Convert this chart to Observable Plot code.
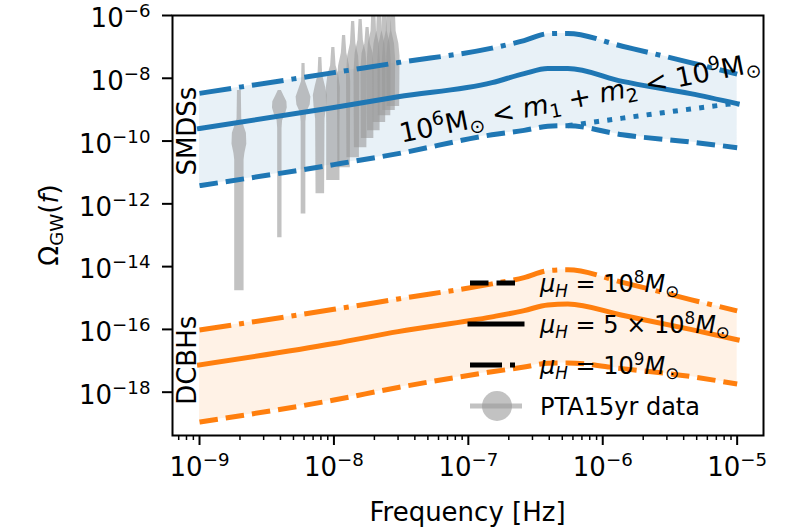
<!DOCTYPE html>
<html>
<head>
<meta charset="utf-8">
<script src="https://cdn.jsdelivr.net/npm/d3@7"></script>
<script src="https://cdn.jsdelivr.net/npm/@observablehq/plot@0.6"></script>
<style>
  body { margin: 0; background: #fff; }
  #wrap { position: relative; width: 800px; height: 530px; font-family: "DejaVu Sans", sans-serif; }
</style>
</head>
<body>
<div id="wrap"></div>
<script>
// ---------------- data ----------------
// frequency grid [Hz]
const freqs = [1e-9, 1e-8, 3e-8, 1.5e-7, 2.6e-7, 3.9e-7, 5.5e-7, 1.4e-6, 4.5e-6, 1e-5];
// log10 Omega_GW for SMDS binaries
const smdsLow  = [-11.42, -10.75, -10.40, -9.80, -9.66, -9.53, -9.51, -9.80, -10.03, -10.21]; // mu_H = 1e8 (dashed)
const smdsMid  = [-9.60, -8.93, -8.59, -8.14, -7.85, -7.69, -7.69, -8.10, -8.49, -8.81];       // mu_H = 5e8 (solid)
const smdsHigh = [-8.48, -7.82, -7.50, -7.04, -6.80, -6.58, -6.57, -6.98, -7.50, -7.87];       // mu_H = 1e9 (dash-dot)
const smdsDotFreqs = [5.5e-7, 1.4e-6, 4.5e-6, 1e-5];
const smdsDot  = [-9.51, -9.27, -8.98, -8.79];                                                 // dotted
// log10 Omega_GW for DCBHs
const dcbhLow  = [-18.95, -18.25, -17.85, -17.35, -17.20, -17.08, -17.07, -17.25, -17.50, -17.74];
const dcbhMid  = [-17.13, -16.45, -16.07, -15.60, -15.40, -15.22, -15.19, -15.55, -16.00, -16.33];
const dcbhHigh = [-16.02, -15.36, -15.03, -14.55, -14.35, -14.13, -14.10, -14.50, -15.05, -15.41];

// PTA 15yr violins: frequency bins and density profiles [log10 Omega, relative width]
const ptaFreqs = [1.98e-9, 3.96e-9, 5.94e-9, 7.92e-9, 9.9e-9, 1.19e-8, 1.39e-8, 1.58e-8, 1.78e-8, 1.98e-8, 2.18e-8, 2.38e-8, 2.57e-8, 2.77e-8];
const ptaProfiles = [
  [[-8.39,0.25],[-9.3,0.3],[-9.5,0.55],[-9.75,0.9],[-10.1,0.95],[-10.4,0.7],[-10.6,0.6],[-14.77,0.6]],
  [[-8.39,0.2],[-8.55,0.5],[-8.75,0.9],[-8.95,0.95],[-9.15,0.7],[-9.35,0.35],[-9.6,0.28],[-13.08,0.28]],
  [[-7.53,0.2],[-8.1,0.25],[-8.35,0.6],[-8.6,0.95],[-8.85,0.85],[-9.1,0.4],[-9.4,0.3],[-12.32,0.3]],
  [[-7.34,0.2],[-7.9,0.3],[-8.25,0.65],[-8.55,0.9],[-8.9,0.8],[-9.3,0.6],[-11.68,0.55]],
  [[-7.02,0.2],[-7.6,0.35],[-7.9,0.7],[-8.3,0.9],[-9.5,0.85],[-11.26,0.85]],
  [[-6.64,0.2],[-7.2,0.35],[-7.6,0.7],[-8.1,0.85],[-10.85,0.8]],
  [[-6.19,0.2],[-6.9,0.35],[-7.3,0.7],[-7.9,0.85],[-10.53,0.8]],
  [[-6.13,0.2],[-6.8,0.35],[-7.2,0.7],[-7.8,0.85],[-10.21,0.8]],
  [[-6.38,0.2],[-6.9,0.35],[-7.2,0.7],[-7.7,0.85],[-9.92,0.8]],
  [[-5.5,0.2],[-6.5,0.35],[-6.9,0.7],[-7.5,0.85],[-9.67,0.8]],
  [[-5.5,0.2],[-6.5,0.35],[-6.9,0.7],[-7.4,0.85],[-9.41,0.8]],
  [[-5.5,0.2],[-6.5,0.35],[-6.9,0.7],[-7.4,0.85],[-9.19,0.8]],
  [[-5.5,0.2],[-6.5,0.35],[-6.9,0.7],[-7.4,0.85],[-9.03,0.8]],
  [[-5.5,0.2],[-6.5,0.35],[-6.9,0.7],[-7.3,0.85],[-8.9,0.8]]
];

// axis ticks
const xTicks = [1e-9, 1e-8, 1e-7, 1e-6, 1e-5];
const xMinorTicks = [7e-10, 8e-10, 9e-10,
  2e-9,3e-9,4e-9,5e-9,6e-9,7e-9,8e-9,9e-9,
  2e-8,3e-8,4e-8,5e-8,6e-8,7e-8,8e-8,9e-8,
  2e-7,3e-7,4e-7,5e-7,6e-7,7e-7,8e-7,9e-7,
  2e-6,3e-6,4e-6,5e-6,6e-6,7e-6,8e-6,9e-6];
const yTicks = [1e-6, 1e-8, 1e-10, 1e-12, 1e-14, 1e-16, 1e-18];

// ---------------- styles ----------------
const BLUE = "#1f77b4", ORANGE = "#ff7f0e";
const lw = 5;
const DASHED = `${3.7*lw},${1.6*lw}`;
const DASHDOT = `${6.4*lw},${1.6*lw},${lw},${1.6*lw}`;
const DOTTED = `${lw},${1.65*lw}`;
const violinHW = 0.058; // half width (decades) for relative density 1
const FS = 26;

// ---------------- build tables ----------------
const toCurve = (fs, vals) => vals.map((v, i) => ({f: fs[i], v: 10 ** v}));
const toBand = (lo, hi) => freqs.map((f, i) => ({f, lo: 10 ** lo[i], hi: 10 ** hi[i]}));
const violinPts = ptaFreqs.flatMap((f, k) => ptaProfiles[k].map(([lv, d]) => ({
  k, v: 10 ** lv, x1: f * 10 ** (-d * violinHW), x2: f * 10 ** (d * violinHW)
})));

const lineOpts = (color, dash) => ({x: "f", y: "v", stroke: color, strokeWidth: lw, strokeDasharray: dash,
  strokeLinecap: "butt", curve: "monotone-x", clip: true});

const plot = Plot.plot({
  width: 800, height: 530,
  marginLeft: 172, marginRight: 37, marginTop: 15, marginBottom: 95,
  style: {fontFamily: "DejaVu Sans", fontSize: FS + "px", background: "white", color: "black"},
  x: {type: "log", domain: [10 ** -9.201, 10 ** -4.804]},
  y: {type: "log", domain: [10 ** -19.38, 1e-6]},
  marks: [
    Plot.areaY(toBand(smdsLow, smdsHigh), {x: "f", y1: "lo", y2: "hi", fill: BLUE, fillOpacity: 0.1, curve: "monotone-x"}),
    Plot.areaY(toBand(dcbhLow, dcbhHigh), {x: "f", y1: "lo", y2: "hi", fill: ORANGE, fillOpacity: 0.1, curve: "monotone-x"}),
    Plot.areaX(violinPts, {y: "v", x1: "x1", x2: "x2", z: "k", fill: "#9a9a9a", fillOpacity: 0.6, clip: true}),
    Plot.line(toCurve(smdsDotFreqs, smdsDot), lineOpts(BLUE, DOTTED)),
    Plot.line(toCurve(freqs, smdsLow), lineOpts(BLUE, DASHED)),
    Plot.line(toCurve(freqs, smdsMid), {...lineOpts(BLUE, null), strokeLinecap: "square"}),
    Plot.line(toCurve(freqs, smdsHigh), lineOpts(BLUE, DASHDOT)),
    Plot.line(toCurve(freqs, dcbhLow), lineOpts(ORANGE, DASHED)),
    Plot.line(toCurve(freqs, dcbhMid), {...lineOpts(ORANGE, null), strokeLinecap: "square"}),
    Plot.line(toCurve(freqs, dcbhHigh), lineOpts(ORANGE, DASHDOT)),
    Plot.frame({stroke: "black", strokeWidth: 2}),
    Plot.axisX({ticks: xMinorTicks, tickSize: 5, strokeWidth: 1.5, tickFormat: () => "", label: null}),
    Plot.axisX({ticks: xTicks, tickSize: 10, tickPadding: 12, strokeWidth: 2, fontSize: FS,
      tickFormat: d => "E" + Math.round(Math.log10(d)), label: null}),
    Plot.axisY({ticks: yTicks, tickSize: 10, tickPadding: 12, strokeWidth: 2, fontSize: FS,
      tickFormat: d => "E" + Math.round(Math.log10(d)), label: null})
  ]
});

document.getElementById("wrap").appendChild(plot);
const svg = d3.select(plot);

// rich text helper: parts = [{t, sup, sub, it}]
function rich(sel, parts, size) {
  let cur = 0;
  for (const p of parts) {
    const shift = p.sup ? -0.38 * size : p.sub ? 0.2 * size : 0;
    const ts = sel.append("tspan").text(p.t).attr("dy", shift - cur);
    cur = shift;
    if (p.sup || p.sub) ts.attr("font-size", (0.7 * size).toFixed(1));
    if (p.it) ts.attr("font-style", "italic");
  }
  return sel;
}

// tick labels -> 10^exp
plot.querySelectorAll("g[aria-label$='tick label'] text").forEach(el => {
  const s = el.textContent;
  if (!s.startsWith("E")) return;
  const e = s.slice(1).replace("-", "\u2212");
  el.textContent = "";
  rich(d3.select(el), [{t: "10"}, {t: e, sup: true}], FS);
  const isY = el.closest("g").getAttribute("aria-label").startsWith("y");
  if (isY) el.setAttribute("y", "0.45em");
});

const X = plot.scale("x"), Y = plot.scale("y");

// axis labels
svg.append("text").attr("x", 467.5).attr("y", 521).attr("text-anchor", "middle")
  .attr("font-size", FS).text("Frequency [Hz]");
rich(svg.append("text").attr("text-anchor", "middle").attr("font-size", FS)
  .attr("transform", "translate(58,225) rotate(-90)"),
  [{t: "\u03A9"}, {t: "GW", sub: true}, {t: "("}, {t: "f", it: true}, {t: ")"}], FS);

// annotations
const annotations = [
  {f: 9.5e-10, v: 2.0e-10, rot: -90, size: FS, parts: [{t: "SMDSs"}]},
  {f: 9.5e-10, v: 1.0e-17, rot: -90, size: FS, parts: [{t: "DCBHs"}]},
  {f: 7.0e-7, v: 1.2e-9, rot: -11.3, size: 27, parts: [
    {t: "10"}, {t: "6", sup: true}, {t: "M"}, {t: "\u2299", sub: true}, {t: " < "},
    {t: "m", it: true}, {t: "1", sub: true}, {t: " + "}, {t: "m", it: true}, {t: "2", sub: true},
    {t: " < 10"}, {t: "9", sup: true}, {t: "M"}, {t: "\u2299", sub: true}]}
];
for (const a of annotations) {
  const x = X.apply(a.f), y = Y.apply(a.v);
  rich(svg.append("text").attr("text-anchor", "middle").attr("font-size", a.size)
    .attr("transform", `translate(${x},${y}) rotate(${a.rot})`), a.parts, a.size);
}

// legend (inside the axes, no frame)
const LFS = 24;
const legendRows = [
  {kind: "line", dash: DASHED, parts: [{t: "\u03BC", it: true}, {t: "H", sub: true, it: true}, {t: " = 10"}, {t: "8", sup: true}, {t: "M", it: true}, {t: "\u2299", sub: true}]},
  {kind: "line", dash: null, parts: [{t: "\u03BC", it: true}, {t: "H", sub: true, it: true}, {t: " = 5 \u00D7 10"}, {t: "8", sup: true}, {t: "M", it: true}, {t: "\u2299", sub: true}]},
  {kind: "line", dash: DASHDOT, parts: [{t: "\u03BC", it: true}, {t: "H", sub: true, it: true}, {t: " = 10"}, {t: "9", sup: true}, {t: "M", it: true}, {t: "\u2299", sub: true}]},
  {kind: "pta", parts: [{t: "PTA15yr data"}]}
];
const lg = svg.append("g").attr("transform", "translate(470,283)");
legendRows.forEach((r, i) => {
  const g = lg.append("g").attr("transform", `translate(0,${i * 41})`);
  if (r.kind === "line") {
    g.append("line").attr("x1", 0).attr("x2", 52).attr("stroke", "black").attr("stroke-width", lw)
      .attr("stroke-dasharray", r.dash).attr("stroke-linecap", r.dash ? "butt" : "square");
  } else {
    g.append("line").attr("x1", 0).attr("x2", 52).attr("stroke", "#9a9a9a").attr("stroke-opacity", 0.6).attr("stroke-width", lw);
    g.append("circle").attr("cx", 27).attr("r", 15).attr("fill", "#9a9a9a").attr("fill-opacity", 0.6);
  }
  rich(g.append("text").attr("x", 70).attr("y", 9).attr("text-anchor", "start").attr("font-size", LFS), r.parts, LFS);
});
</script>
</body>
</html>
